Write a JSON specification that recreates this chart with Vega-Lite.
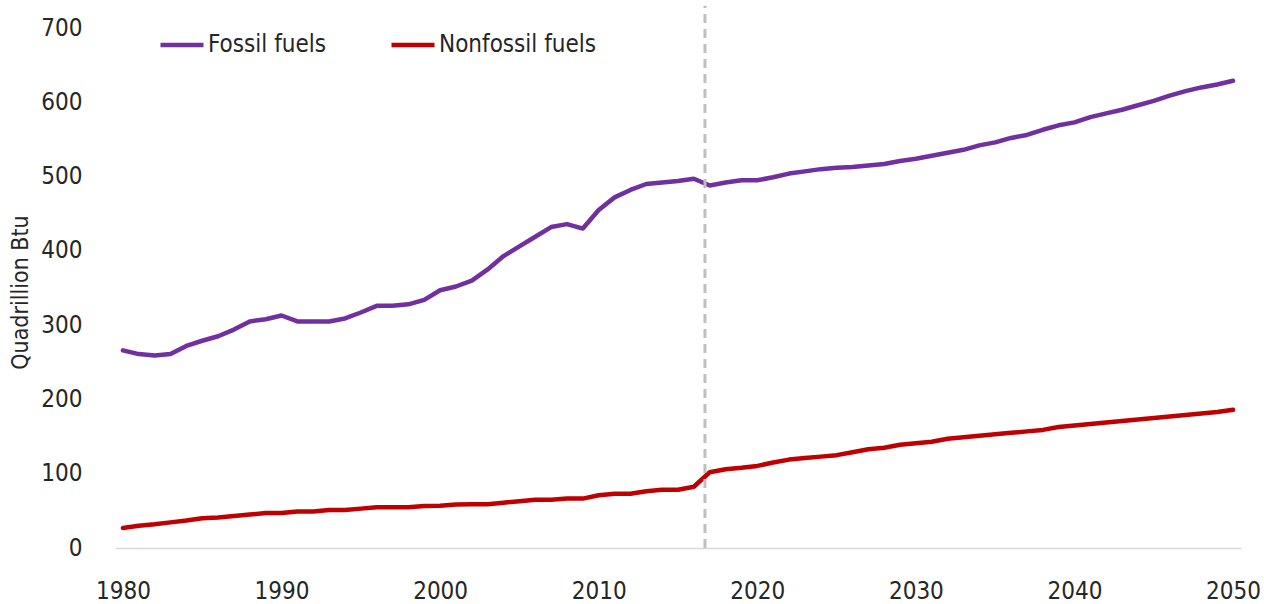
{
  "$schema": "https://vega.github.io/schema/vega-lite/v6.json",
  "width": 1126,
  "height": 520,
  "autosize": {"type": "none"},
  "padding": {"left": 115, "top": 28, "right": 23, "bottom": 56},
  "background": "white",
  "config": {
    "view": {"stroke": null},
    "font": "DejaVu Sans Condensed",
    "axis": {"grid": false, "ticks": false, "labelFont": "DejaVu Sans Condensed", "labelColor": "#262626", "titleFont": "DejaVu Sans Condensed", "titleColor": "#262626", "titleFontWeight": "normal"},
    "legend": {"labelFont": "DejaVu Sans Condensed", "labelColor": "#262626", "labelLimit": 0}
  },
  "layer": [
    {
      "data": {"values": [
        {"year":1980,"series":"Fossil fuels","value":266},{"year":1981,"series":"Fossil fuels","value":261},{"year":1982,"series":"Fossil fuels","value":259},{"year":1983,"series":"Fossil fuels","value":261},{"year":1984,"series":"Fossil fuels","value":272},{"year":1985,"series":"Fossil fuels","value":279},{"year":1986,"series":"Fossil fuels","value":285},{"year":1987,"series":"Fossil fuels","value":294},{"year":1988,"series":"Fossil fuels","value":305},{"year":1989,"series":"Fossil fuels","value":308},
        {"year":1990,"series":"Fossil fuels","value":313},{"year":1991,"series":"Fossil fuels","value":305},{"year":1992,"series":"Fossil fuels","value":305},{"year":1993,"series":"Fossil fuels","value":305},{"year":1994,"series":"Fossil fuels","value":309},{"year":1995,"series":"Fossil fuels","value":317},{"year":1996,"series":"Fossil fuels","value":326},{"year":1997,"series":"Fossil fuels","value":326},{"year":1998,"series":"Fossil fuels","value":328},{"year":1999,"series":"Fossil fuels","value":334},
        {"year":2000,"series":"Fossil fuels","value":347},{"year":2001,"series":"Fossil fuels","value":352},{"year":2002,"series":"Fossil fuels","value":360},{"year":2003,"series":"Fossil fuels","value":375},{"year":2004,"series":"Fossil fuels","value":393},{"year":2005,"series":"Fossil fuels","value":406},{"year":2006,"series":"Fossil fuels","value":419},{"year":2007,"series":"Fossil fuels","value":432},{"year":2008,"series":"Fossil fuels","value":436},{"year":2009,"series":"Fossil fuels","value":430},
        {"year":2010,"series":"Fossil fuels","value":455},{"year":2011,"series":"Fossil fuels","value":472},{"year":2012,"series":"Fossil fuels","value":482},{"year":2013,"series":"Fossil fuels","value":490},{"year":2014,"series":"Fossil fuels","value":492},{"year":2015,"series":"Fossil fuels","value":494},{"year":2016,"series":"Fossil fuels","value":497},{"year":2017,"series":"Fossil fuels","value":488},{"year":2018,"series":"Fossil fuels","value":492},{"year":2019,"series":"Fossil fuels","value":495},
        {"year":2020,"series":"Fossil fuels","value":495},{"year":2021,"series":"Fossil fuels","value":499},{"year":2022,"series":"Fossil fuels","value":504},{"year":2023,"series":"Fossil fuels","value":507},{"year":2024,"series":"Fossil fuels","value":510},{"year":2025,"series":"Fossil fuels","value":512},{"year":2026,"series":"Fossil fuels","value":513},{"year":2027,"series":"Fossil fuels","value":515},{"year":2028,"series":"Fossil fuels","value":517},{"year":2029,"series":"Fossil fuels","value":521},
        {"year":2030,"series":"Fossil fuels","value":524},{"year":2031,"series":"Fossil fuels","value":528},{"year":2032,"series":"Fossil fuels","value":532},{"year":2033,"series":"Fossil fuels","value":536},{"year":2034,"series":"Fossil fuels","value":542},{"year":2035,"series":"Fossil fuels","value":546},{"year":2036,"series":"Fossil fuels","value":552},{"year":2037,"series":"Fossil fuels","value":556},{"year":2038,"series":"Fossil fuels","value":563},{"year":2039,"series":"Fossil fuels","value":569},
        {"year":2040,"series":"Fossil fuels","value":573},{"year":2041,"series":"Fossil fuels","value":580},{"year":2042,"series":"Fossil fuels","value":585},{"year":2043,"series":"Fossil fuels","value":590},{"year":2044,"series":"Fossil fuels","value":596},{"year":2045,"series":"Fossil fuels","value":602},{"year":2046,"series":"Fossil fuels","value":609},{"year":2047,"series":"Fossil fuels","value":615},{"year":2048,"series":"Fossil fuels","value":620},{"year":2049,"series":"Fossil fuels","value":624},{"year":2050,"series":"Fossil fuels","value":629},
        {"year":1980,"series":"Nonfossil fuels","value":27},{"year":1981,"series":"Nonfossil fuels","value":30},{"year":1982,"series":"Nonfossil fuels","value":32},{"year":1983,"series":"Nonfossil fuels","value":34.5},{"year":1984,"series":"Nonfossil fuels","value":37},{"year":1985,"series":"Nonfossil fuels","value":40},{"year":1986,"series":"Nonfossil fuels","value":41},{"year":1987,"series":"Nonfossil fuels","value":43},{"year":1988,"series":"Nonfossil fuels","value":45},{"year":1989,"series":"Nonfossil fuels","value":47},
        {"year":1990,"series":"Nonfossil fuels","value":47},{"year":1991,"series":"Nonfossil fuels","value":49},{"year":1992,"series":"Nonfossil fuels","value":49},{"year":1993,"series":"Nonfossil fuels","value":51},{"year":1994,"series":"Nonfossil fuels","value":51},{"year":1995,"series":"Nonfossil fuels","value":53},{"year":1996,"series":"Nonfossil fuels","value":55},{"year":1997,"series":"Nonfossil fuels","value":55},{"year":1998,"series":"Nonfossil fuels","value":55},{"year":1999,"series":"Nonfossil fuels","value":56.5},
        {"year":2000,"series":"Nonfossil fuels","value":57},{"year":2001,"series":"Nonfossil fuels","value":58.5},{"year":2002,"series":"Nonfossil fuels","value":59},{"year":2003,"series":"Nonfossil fuels","value":59},{"year":2004,"series":"Nonfossil fuels","value":61},{"year":2005,"series":"Nonfossil fuels","value":63},{"year":2006,"series":"Nonfossil fuels","value":65},{"year":2007,"series":"Nonfossil fuels","value":65},{"year":2008,"series":"Nonfossil fuels","value":66.5},{"year":2009,"series":"Nonfossil fuels","value":66.5},
        {"year":2010,"series":"Nonfossil fuels","value":71},{"year":2011,"series":"Nonfossil fuels","value":73},{"year":2012,"series":"Nonfossil fuels","value":73},{"year":2013,"series":"Nonfossil fuels","value":76.5},{"year":2014,"series":"Nonfossil fuels","value":78.5},{"year":2015,"series":"Nonfossil fuels","value":78.5},{"year":2016,"series":"Nonfossil fuels","value":82.5},{"year":2017,"series":"Nonfossil fuels","value":102},{"year":2018,"series":"Nonfossil fuels","value":106},{"year":2019,"series":"Nonfossil fuels","value":108},
        {"year":2020,"series":"Nonfossil fuels","value":110.5},{"year":2021,"series":"Nonfossil fuels","value":115},{"year":2022,"series":"Nonfossil fuels","value":119},{"year":2023,"series":"Nonfossil fuels","value":121},{"year":2024,"series":"Nonfossil fuels","value":123},{"year":2025,"series":"Nonfossil fuels","value":125},{"year":2026,"series":"Nonfossil fuels","value":129},{"year":2027,"series":"Nonfossil fuels","value":133},{"year":2028,"series":"Nonfossil fuels","value":135},{"year":2029,"series":"Nonfossil fuels","value":139},
        {"year":2030,"series":"Nonfossil fuels","value":141},{"year":2031,"series":"Nonfossil fuels","value":143},{"year":2032,"series":"Nonfossil fuels","value":147},{"year":2033,"series":"Nonfossil fuels","value":149},{"year":2034,"series":"Nonfossil fuels","value":151},{"year":2035,"series":"Nonfossil fuels","value":153},{"year":2036,"series":"Nonfossil fuels","value":155},{"year":2037,"series":"Nonfossil fuels","value":157},{"year":2038,"series":"Nonfossil fuels","value":159},{"year":2039,"series":"Nonfossil fuels","value":163},
        {"year":2040,"series":"Nonfossil fuels","value":165},{"year":2041,"series":"Nonfossil fuels","value":167},{"year":2042,"series":"Nonfossil fuels","value":169},{"year":2043,"series":"Nonfossil fuels","value":171},{"year":2044,"series":"Nonfossil fuels","value":173},{"year":2045,"series":"Nonfossil fuels","value":175},{"year":2046,"series":"Nonfossil fuels","value":177},{"year":2047,"series":"Nonfossil fuels","value":179},{"year":2048,"series":"Nonfossil fuels","value":181},{"year":2049,"series":"Nonfossil fuels","value":183},{"year":2050,"series":"Nonfossil fuels","value":186}
      ]},
      "mark": {"type": "line", "strokeWidth": 4.5, "strokeCap": "round", "strokeJoin": "round"},
      "encoding": {
        "x": {"field": "year", "type": "quantitative",
              "scale": {"domain": [1979.5, 2050.5], "nice": false, "zero": false},
              "axis": {"title": null, "values": [1980,1990,2000,2010,2020,2030,2040,2050], "format": "d",
                       "labelFontSize": 24, "labelPadding": 31, "domainColor": "#D9D9D9", "domainWidth": 1.5}},
        "y": {"field": "value", "type": "quantitative",
              "scale": {"domain": [0, 700], "nice": false},
              "axis": {"title": "Quadrillion Btu", "values": [0,100,200,300,400,500,600,700],
                       "labelFontSize": 24, "labelPadding": 33, "domain": false,
                       "titleFontSize": 23, "titleX": -95, "titleY": 264, "titleAngle": -90, "titleAlign": "center", "titleBaseline": "middle"}},
        "color": {"field": "series", "type": "nominal",
                  "scale": {"domain": ["Fossil fuels", "Nonfossil fuels"], "range": ["#7030A0", "#C00000"]},
                  "legend": {"title": null, "orient": "none", "legendX": 43, "legendY": -7, "direction": "horizontal",
                             "symbolType": "stroke", "symbolSize": 1850, "symbolStrokeWidth": 4.5,
                             "labelFontSize": 24, "labelOffset": 2, "columnPadding": 56}}
      }
    },
    {
      "data": {"values": [{"year": 2016.7, "bottom": 0, "top": 730}]},
      "mark": {"type": "rule", "stroke": "#BFBFBF", "strokeWidth": 3, "strokeDash": [9, 6], "clip": false},
      "encoding": {
        "x": {"field": "year", "type": "quantitative"},
        "y": {"field": "bottom", "type": "quantitative"},
        "y2": {"field": "top"}
      }
    }
  ]
}
